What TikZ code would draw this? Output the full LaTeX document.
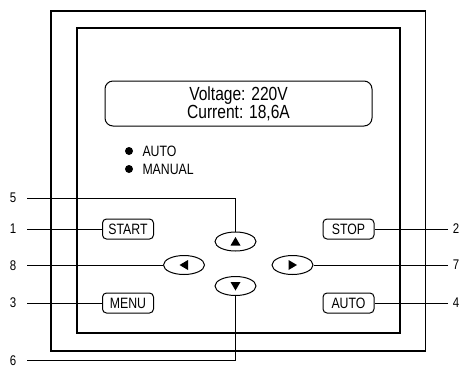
\documentclass[tikz,border=0pt]{standalone}
\usepackage{fontspec}
\setmainfont{Liberation Sans}[FakeStretch=0.82]
\usetikzlibrary{shapes.geometric}
\begin{document}
\begin{tikzpicture}[x=1pt,y=-1pt,line width=1pt,
  frame/.style={draw,line width=1.1pt},
  btn/.style={draw,rounded corners=4pt,minimum width=51pt,minimum height=20pt,inner sep=0pt,font=\fontsize{15}{15}\selectfont},
  arrbtn/.style={draw,ellipse,minimum width=41pt,minimum height=19pt,inner sep=0pt},
  num/.style={inner sep=0pt,font=\fontsize{14}{14}\selectfont},
  lead/.style={line width=0.9pt}]
\useasboundingbox (0,0) rectangle (460,368);
% frames
\draw[frame] (51,11) rectangle (425.5,351);
\draw[frame] (77,28) rectangle (400,333);
% display
\node[draw,rounded corners=8pt,minimum width=267pt,minimum height=45pt,inner sep=0pt,
      align=center,font=\fontsize{19}{18}\selectfont] (disp) at (238.5,103.5) {Voltage: 220V\\Current: 18,6A};
% indicators
\fill (129,151) circle (4);
\fill (129,169) circle (4);
\node[anchor=west,inner sep=0pt,font=\fontsize{15}{15}\selectfont] (lauto) at (142,151) {AUTO};
\node[anchor=west,inner sep=0pt,font=\fontsize{15}{15}\selectfont] (lman) at (142,169) {MANUAL};
% buttons
\node[btn] (start) at (128,229) {START};
\node[btn] (menu) at (128,303) {MENU};
\node[btn] (stop) at (348.5,229) {STOP};
\node[btn] (auto) at (348.5,303) {AUTO};
\node[arrbtn] (up) at (235.5,241.5) {};
\node[arrbtn] (down) at (235.5,286) {};
\node[arrbtn] (left) at (184,265) {};
\node[arrbtn] (right) at (292.5,265) {};
\fill ([shift={(0,-4.5)}]up.center) -- ++(5,8.5) -- ++(-10,0) -- cycle;
\fill ([shift={(0,4.5)}]down.center) -- ++(5,-8.5) -- ++(-10,0) -- cycle;
\fill ([shift={(-4.5,0)}]left.center) -- ++(8.5,-5) -- ++(0,10) -- cycle;
\fill ([shift={(4.5,0)}]right.center) -- ++(-8.5,-5) -- ++(0,10) -- cycle;
% labels
\node[num] (n5) at (13,198) {5};
\node[num] (n1) at (13,229) {1};
\node[num] (n8) at (13,266) {8};
\node[num] (n3) at (13,303) {3};
\node[num] (n6) at (13,361) {6};
\node[num] (n2) at (456,229) {2};
\node[num] (n7) at (456,265) {7};
\node[num] (n4) at (456,303) {4};
\coordinate (c5) at (27,198);
\coordinate (c1) at (27,229);
\coordinate (c8) at (27,265);
\coordinate (c3) at (27,303);
\coordinate (c6) at (27,360);
\coordinate (c2) at (448,229);
\coordinate (c7) at (448,265);
\coordinate (c4) at (448,303);
\draw[lead] (c5) -| (up.north);
\draw[lead] (c1) -- (start.west);
\draw[lead] (c8) -- (left.west);
\draw[lead] (c3) -- (menu.west);
\draw[lead] (c6) -| (down.south);
\draw[lead] (c2) -- (stop.east);
\draw[lead] (c7) -- (right.east);
\draw[lead] (c4) -- (auto.east);
\end{tikzpicture}
\end{document}
